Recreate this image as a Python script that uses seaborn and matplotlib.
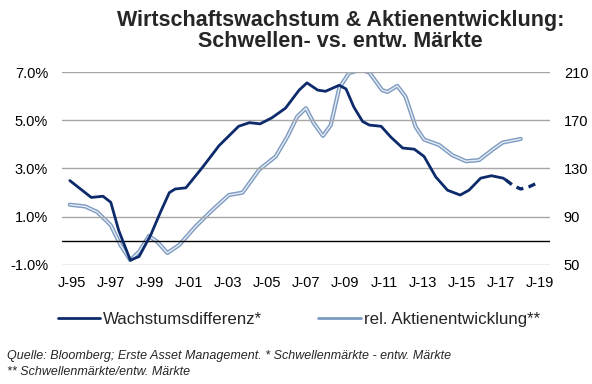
import numpy as np
import pandas as pd
import matplotlib
matplotlib.use('Agg')
import matplotlib.pyplot as plt
from matplotlib.lines import Line2D
import seaborn as sns

sns.set_style('white')
plt.rcParams['font.family'] = ['Liberation Sans', 'DejaVu Sans']

# --- data (x = year, fractional) ---
wd_years = [1994.9, 1996.0, 1996.6, 1997.0, 1997.4, 1998.0, 1998.45, 1999.05, 1999.55,
            2000.0, 2000.3, 2000.85, 2001.7, 2002.55, 2003.55, 2004.1, 2004.65, 2005.25,
            2005.95, 2006.65, 2007.05, 2007.6, 2008.0, 2008.7, 2009.05, 2009.45, 2009.9,
            2010.25, 2010.85, 2011.35, 2011.95, 2012.55, 2013.05, 2013.65, 2014.25,
            2014.9, 2015.35, 2015.95, 2016.5, 2017.1, 2017.25]
wd_values = [2.5, 1.8, 1.85, 1.6, 0.45, -0.8, -0.65, 0.25, 1.2,
             2.0, 2.15, 2.2, 3.05, 3.95, 4.75, 4.9, 4.85, 5.1,
             5.5, 6.25, 6.55, 6.25, 6.2, 6.45, 6.3, 5.55, 4.95,
             4.8, 4.75, 4.3, 3.85, 3.8, 3.5, 2.65, 2.1,
             1.9, 2.1, 2.6, 2.7, 2.6, 2.52]
# forecast part (dashed)
wd_fc_years = [2017.25, 2017.6, 2018.0, 2018.45, 2018.85]
wd_fc_values = [2.52, 2.3, 2.15, 2.25, 2.4]

akt_years = [1994.9, 1995.7, 1996.3, 1997.0, 1997.5, 1998.0, 1998.45, 1998.95, 1999.37,
             1999.9, 2000.5, 2001.35, 2002.2, 2003.05, 2003.75, 2004.6, 2005.45, 2006.05,
             2006.55, 2007.0, 2007.4, 2007.87, 2008.27, 2008.7, 2009.2, 2009.8, 2010.25,
             2010.9, 2011.17, 2011.68, 2012.1, 2012.62, 2013.05, 2013.82, 2014.5,
             2015.2, 2015.87, 2016.55, 2017.07, 2018.0]
akt_values = [100, 98.5, 94, 83, 66.5, 54, 61, 74, 69.5,
              60, 66.5, 82, 95.5, 108, 110, 129, 140, 156.5,
              173, 180, 167.5, 157, 166, 196.5, 209, 212, 209.5,
              195, 193.5, 198.5, 189.5, 164.5, 154, 149.5, 141,
              136, 137, 145.5, 151.5, 154.5]

x_ticks = list(range(1995, 2020, 2))
x_labels = [f"J-{y % 100:02d}" for y in x_ticks]
left_ticks = [-1.0, 1.0, 3.0, 5.0, 7.0]
right_ticks = [50, 90, 130, 170, 210]

NAVY = '#0d2a6b'
STEEL = '#7d9bc1'
GRID = '#a6a6a6'

fig = plt.figure(figsize=(5.92, 3.84), dpi=100)
ax = fig.add_axes([0.1047, 0.3099, 0.8243, 0.5026])
ax2 = ax.twinx()

# gridlines + zero line
for t in left_ticks:
    ax.axhline(t, color=GRID, lw=1, zorder=0)
ax.axhline(0, color='black', lw=1, zorder=1)

# right axis: relative equity performance (double line effect)
sns.lineplot(x=akt_years, y=akt_values, ax=ax2, color=STEEL, lw=3.0, zorder=2)
sns.lineplot(x=akt_years, y=akt_values, ax=ax2, color='#e6ecf4', lw=1.0, zorder=3)

# left axis: growth differential
ax.set_zorder(ax2.get_zorder() + 1)
ax.patch.set_visible(False)
sns.lineplot(x=wd_years, y=wd_values, ax=ax, color=NAVY, lw=2.0, zorder=4)
sns.lineplot(x=wd_fc_years, y=wd_fc_values, ax=ax, color=NAVY, lw=2.4,
             linestyle=(0, (2.2, 1.6)), zorder=4)

ax.set_xlim(1994.5, 2019.5)
ax.set_ylim(-1.0, 7.0)
ax2.set_ylim(50, 210)
ax.set_xticks(x_ticks)
ax.set_xticklabels(x_labels)
ax.set_yticks(left_ticks)
ax.set_yticklabels([f"{t:.1f}%" for t in left_ticks])
ax2.set_yticks(right_ticks)
ax2.set_yticklabels([str(t) for t in right_ticks])
for a in (ax, ax2):
    for s in a.spines.values():
        s.set_visible(False)
    a.tick_params(length=0, labelsize=10.5, colors='black')
    a.set_xlabel('')
    a.set_ylabel('')
ax.tick_params(axis='y', pad=10)
ax2.tick_params(axis='y', pad=10)
ax.tick_params(axis='x', pad=8)

fig.text(0.575, 0.975, 'Wirtschaftswachstum & Aktienentwicklung:\nSchwellen- vs. entw. Märkte',
         ha='center', va='top', fontsize=15.5, fontweight='bold', linespacing=1.0)

handles = [Line2D([], [], color=NAVY, lw=2),
           Line2D([], [], color=STEEL, lw=2)]
fig.legend(handles, ['Wachstumsdifferenz*', 'rel. Aktienentwicklung**'],
           loc='center', bbox_to_anchor=(0.505, 0.169), ncol=2, frameon=False,
           fontsize=12.2, handlelength=2.5, handletextpad=0.2, columnspacing=3.3)

fig.text(0.012, 0.073, 'Quelle: Bloomberg; Erste Asset Management. * Schwellenmärkte - entw. Märkte',
         fontsize=9, style='italic', va='center')
fig.text(0.012, 0.03, '** Schwellenmärkte/entw. Märkte',
         fontsize=9, style='italic', va='center')

fig.savefig('out.png', dpi=100)
